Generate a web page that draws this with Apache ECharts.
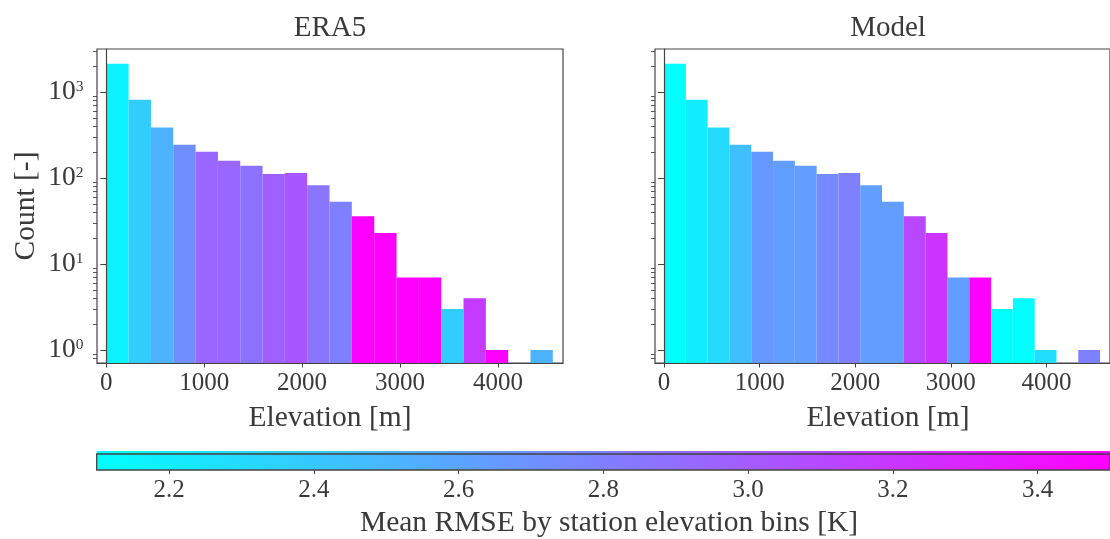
<!DOCTYPE html>
<html><head><meta charset="utf-8">
<script src="https://cdn.jsdelivr.net/npm/echarts@6/dist/echarts.min.js"></script>
<style>html,body{margin:0;padding:0;background:#fff;} #chart{width:1110px;height:539px;}</style>
</head><body><div id="chart"></div>
<script>
// ---- data ----
const binEdges = [0, 228, 456, 684, 912, 1140, 1368, 1596, 1824, 2052, 2280, 2508, 2737, 2965, 3193, 3421, 3649, 3877, 4105, 4333, 4561];
const counts = [2150, 820, 390, 245, 203, 160, 140, 112, 115, 83, 53, 36, 23, 7, 7, 3, 4, 1, 0, 1];
const rmseEra5 = [2.17, 2.38, 2.52, 2.72, 2.94, 2.94, 2.87, 2.98, 3.02, 2.86, 2.80, 3.50, 3.50, 3.50, 3.50, 2.38, 3.18, 3.50, null, 2.52];
const rmseModel = [2.10, 2.20, 2.30, 2.45, 2.66, 2.63, 2.63, 2.74, 2.80, 2.63, 2.63, 3.11, 3.22, 2.63, 3.50, 2.10, 2.10, 2.28, null, 2.80];
const panelTitles = ['ERA5', 'Model'];
const xTicks = [0, 1000, 2000, 3000, 4000];
const yMajorTicks = [1, 10, 100, 1000];
const yMinorTicks = [0.8, 0.9, 2, 3, 4, 5, 6, 7, 8, 9, 20, 30, 40, 50, 60, 70, 80, 90, 200, 300, 400, 500, 600, 700, 800, 900, 2000, 3000];
const cbarTicks = [2.2, 2.4, 2.6, 2.8, 3.0, 3.2, 3.4];
const cbarRange = [2.1, 3.5];
const xRange = [-95, 4665];
const yRange = [0.706, 3189];
const xLabel = 'Elevation [m]';
const yLabel = 'Count [-]';
const cbarLabel = 'Mean RMSE by station elevation bins [K]';

// ---- styling ----
const FONT = "'Liberation Serif', 'Times New Roman', serif";
const TXT = '#3a3a3a';
const AX = '#444444';

function cool(v) {
  let t = (v - cbarRange[0]) / (cbarRange[1] - cbarRange[0]);
  t = Math.max(0, Math.min(1, t));
  return 'rgb(' + Math.round(255 * t) + ',' + Math.round(255 * (1 - t)) + ',255)';
}

function barData(rmse) {
  const out = [];
  for (let i = 0; i < counts.length; i++) {
    if (counts[i] > 0) out.push([binEdges[i], binEdges[i + 1], counts[i], rmse[i]]);
  }
  return out;
}

function renderBar(params, api) {
  const top = api.coord([api.value(0), api.value(2)]);
  const end = api.coord([api.value(1), yRange[0]]);
  return {
    type: 'rect',
    shape: { x: top[0], y: top[1], width: end[0] - top[0], height: end[1] - top[1] },
    style: { fill: cool(api.value(3)) }
  };
}

function renderCbar(params, api) {
  const p0 = api.coord([cbarRange[0], 1]);
  const p1 = api.coord([cbarRange[1], 0]);
  const grad = new echarts.graphic.LinearGradient(0, 0, 1, 0, [
    { offset: 0, color: cool(cbarRange[0]) },
    { offset: 1, color: cool(cbarRange[1]) }
  ]);
  return {
    type: 'group',
    children: [
      { type: 'rect', shape: { x: p0[0], y: p0[1] - 3, width: p1[0] - p0[0], height: p1[1] - p0[1] + 3 }, style: { fill: grad } },
      { type: 'rect', shape: { x: p0[0], y: p0[1], width: p1[0] - p0[0], height: p1[1] - p0[1] }, style: { fill: null, stroke: AX, lineWidth: 1.3 } }
    ]
  };
}

const panelLeft = [97, 655];
const panelWidth = 466;
const grids = [
  { left: panelLeft[0], top: 49, width: panelWidth, height: 314, show: true, borderColor: AX, borderWidth: 1.2, backgroundColor: 'transparent' },
  { left: panelLeft[1], top: 49, width: panelWidth, height: 314, show: true, borderColor: AX, borderWidth: 1.2, backgroundColor: 'transparent' },
  { left: 96.7, top: 454, width: 1024.3, height: 16 }
];

function xAxisFor(g) {
  return {
    type: 'value', gridIndex: g, min: xRange[0], max: xRange[1], z: 10, position: 'bottom',
    axisLine: { show: true, lineStyle: { color: AX, width: 1.2 } },
    axisTick: { show: true, length: 4.5, customValues: xTicks, lineStyle: { color: AX, width: 1 } },
    axisLabel: { show: true, customValues: xTicks, margin: 8, color: TXT, fontFamily: FONT, fontSize: 25, formatter: v => String(v) },
    splitLine: { show: false }
  };
}

function yMajor(g, labels) {
  return {
    type: 'log', logBase: 10, gridIndex: g, min: yRange[0], max: yRange[1], z: 10, position: 'left',
    axisLine: { show: true, lineStyle: { color: AX, width: 1.2 } },
    axisTick: { show: true, length: 6, customValues: yMajorTicks, lineStyle: { color: AX, width: 1 } },
    axisLabel: {
      show: labels, customValues: yMajorTicks, margin: 13.5, color: TXT, fontFamily: FONT,
      formatter: v => '{b|10}{s|' + Math.round(Math.log10(v)) + '}',
      rich: {
        b: { fontSize: 27.5, lineHeight: 27, fontFamily: FONT, color: TXT },
        s: { fontSize: 15.5, lineHeight: 12, fontFamily: FONT, color: TXT, verticalAlign: 'top' }
      }
    },
    splitLine: { show: false }
  };
}
function yMinor(g) {
  return {
    type: 'log', logBase: 10, gridIndex: g, min: yRange[0], max: yRange[1], z: 10, position: 'left', offset: 0,
    axisLine: { show: false },
    axisTick: { show: true, length: 4, customValues: yMinorTicks, lineStyle: { color: AX, width: 0.9 } },
    axisLabel: { show: false },
    splitLine: { show: false }
  };
}

const option = {
  animation: false,
  backgroundColor: '#ffffff',
  grid: grids,
  xAxis: [
    xAxisFor(0), xAxisFor(1),
    {
      type: 'value', gridIndex: 2, min: cbarRange[0], max: cbarRange[1], z: 10, position: 'bottom',
      axisLine: { show: false },
      axisTick: { show: true, length: 4, customValues: cbarTicks, lineStyle: { color: AX, width: 1 } },
      axisLabel: { show: true, customValues: cbarTicks, margin: 8, color: TXT, fontFamily: FONT, fontSize: 25, formatter: v => v.toFixed(1) },
      splitLine: { show: false }
    }
  ],
  yAxis: [
    yMajor(0, true), yMinor(0), yMajor(1, false), yMinor(1),
    { type: 'value', gridIndex: 2, min: 0, max: 1, show: false }
  ],
  series: [
    { type: 'custom', xAxisIndex: 0, yAxisIndex: 0, renderItem: renderBar, encode: { x: [0, 1], y: 2 }, data: barData(rmseEra5) },
    { type: 'custom', xAxisIndex: 1, yAxisIndex: 2, renderItem: renderBar, encode: { x: [0, 1], y: 2 }, data: barData(rmseModel) },
    { type: 'custom', xAxisIndex: 2, yAxisIndex: 4, renderItem: renderCbar, data: [[cbarRange[0], cbarRange[1]]], encode: { x: [0, 1] } }
  ],
  graphic: [
    { type: 'text', x: 330, y: 28, style: { text: panelTitles[0], font: '29px ' + FONT, fill: TXT, align: 'center', verticalAlign: 'middle' } },
    { type: 'text', x: 888, y: 28, style: { text: panelTitles[1], font: '29px ' + FONT, fill: TXT, align: 'center', verticalAlign: 'middle' } },
    { type: 'text', x: 330, y: 418, style: { text: xLabel, font: '29.5px ' + FONT, fill: TXT, align: 'center', verticalAlign: 'middle' } },
    { type: 'text', x: 888, y: 418, style: { text: xLabel, font: '29.5px ' + FONT, fill: TXT, align: 'center', verticalAlign: 'middle' } },
    { type: 'text', x: 26, y: 206, rotation: Math.PI / 2, style: { text: yLabel, font: '29.5px ' + FONT, fill: TXT, align: 'center', verticalAlign: 'middle' } },
    { type: 'text', x: 609, y: 523, style: { text: cbarLabel, font: '29.5px ' + FONT, fill: TXT, align: 'center', verticalAlign: 'middle' } }
  ]
};

const chart = echarts.init(document.getElementById('chart'), null, { renderer: 'canvas' });
chart.setOption(option);
</script>
</body></html>
